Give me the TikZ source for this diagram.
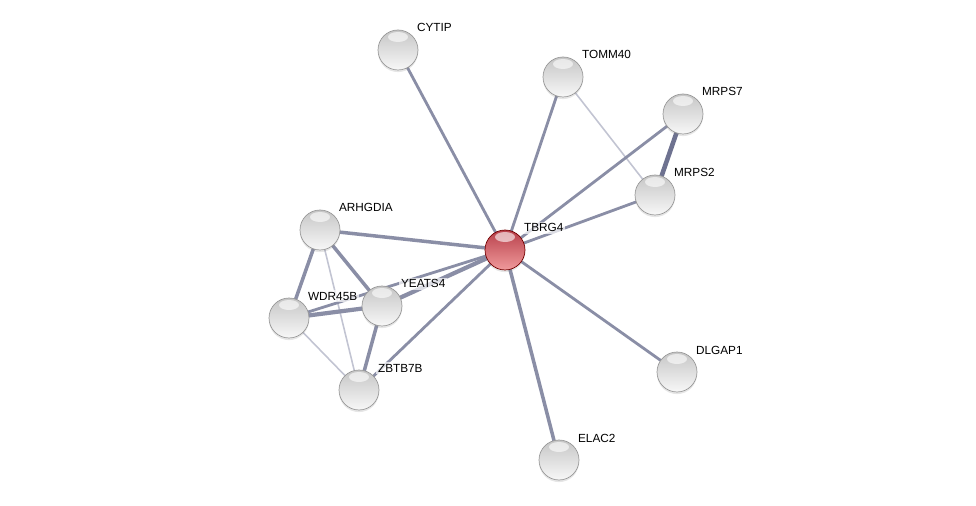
\documentclass[tikz,border=0pt]{standalone}
\usepackage{fontspec}
\setmainfont{Liberation Sans}
\usetikzlibrary{calc,shadows}
\definecolor{edgecol}{HTML}{8A8EA6}
\definecolor{edgedark}{HTML}{6E7290}
\definecolor{edgelight}{HTML}{C2C4D2}
\definecolor{hubtop}{HTML}{B8404A}
\definecolor{hubmid}{HTML}{D9656C}
\definecolor{hubbot}{HTML}{F09A9C}
\tikzset{
	prot/.style={circle, minimum size=0.8cm, inner sep=0pt, draw=gray!80, line width=0.4pt,
		top color=gray!45, middle color=gray!28, bottom color=gray!6,
		drop shadow={opacity=0.2, shadow xshift=0pt, shadow yshift=-1.2pt},
		path picture={\fill[white, opacity=0.6] ($(path picture bounding box.north)+(0,7)$) ellipse (10 and 5);}},
	hub/.style={prot, draw=red!45!black, top color=hubtop, middle color=hubmid, bottom color=hubbot},
	lbl/.style={anchor=base west, inner sep=1pt, fill=white, fill opacity=0.7, text opacity=1, font=\fontsize{6.7}{7}\selectfont},
	edge/.style={draw=edgecol, line width=1.6pt},
	weak/.style={draw=edgelight, line width=0.9pt},
	strong/.style={draw=edgedark, line width=2.6pt}
}
\begin{document}
\begin{tikzpicture}[x=0.02cm, y=-0.02cm, line join=round, line cap=round]
	\useasboundingbox (0,0) rectangle (976,506);
	\coordinate (cytip) at (398,50);
	\coordinate (tomm40) at (563,77);
	\coordinate (mrps7) at (683,114);
	\coordinate (mrps2) at (655,195);
	\coordinate (tbrg4) at (505,250);
	\coordinate (arhgdia) at (320,230);
	\coordinate (yeats4) at (382,306);
	\coordinate (wdr45b) at (289,318);
	\coordinate (zbtb7b) at (359,390);
	\coordinate (dlgap1) at (677,372);
	\coordinate (elac2) at (559,460);
	% edges
	\draw[weak] (tomm40) -- (mrps2);
	\draw[weak] (arhgdia) -- (zbtb7b);
	\draw[weak] (wdr45b) -- (zbtb7b);
	\draw[strong] (mrps7) -- (mrps2);
	\draw[edge] (tbrg4) -- (cytip);
	\draw[edge] (tbrg4) -- (tomm40);
	\draw[edge] (tbrg4) -- (mrps7);
	\draw[edge] (tbrg4) -- (mrps2);
	\draw[edge] (tbrg4) -- (dlgap1);
	\draw[edge, line width=2pt] (tbrg4) -- (elac2);
	\draw[edge, line width=2pt] (tbrg4) -- (arhgdia);
	\draw[edge, line width=2.4pt] (tbrg4) -- (yeats4);
	\draw[edge] (tbrg4) -- (wdr45b);
	\draw[edge] (tbrg4) -- (zbtb7b);
	\draw[edge, line width=2pt] (arhgdia) -- (wdr45b);
	\draw[edge, line width=2pt] (arhgdia) -- (yeats4);
	\draw[edge, line width=2.4pt] (wdr45b) -- (yeats4);
	\draw[edge, line width=2pt] (yeats4) -- (zbtb7b);
	% proteins
	\node[prot] (n-cytip) at (cytip) {};
	\node[prot] (n-tomm40) at (tomm40) {};
	\node[prot] (n-mrps7) at (mrps7) {};
	\node[prot] (n-mrps2) at (mrps2) {};
	\node[hub] (n-tbrg4) at (tbrg4) {};
	\node[prot] (n-arhgdia) at (arhgdia) {};
	\node[prot] (n-yeats4) at (yeats4) {};
	\node[prot] (n-wdr45b) at (wdr45b) {};
	\node[prot] (n-zbtb7b) at (zbtb7b) {};
	\node[prot] (n-dlgap1) at (dlgap1) {};
	\node[prot] (n-elac2) at (elac2) {};
	% labels
	\node[lbl] (l-cytip) at ($(cytip)+(17,-18)$) {CYTIP};
	\node[lbl] (l-tomm40) at ($(tomm40)+(17,-18)$) {TOMM40};
	\node[lbl] (l-mrps7) at ($(mrps7)+(17,-18)$) {MRPS7};
	\node[lbl] (l-mrps2) at ($(mrps2)+(17,-18)$) {MRPS2};
	\node[lbl] (l-tbrg4) at ($(tbrg4)+(17,-18)$) {TBRG4};
	\node[lbl] (l-arhgdia) at ($(arhgdia)+(17,-18)$) {ARHGDIA};
	\node[lbl] (l-yeats4) at ($(yeats4)+(17,-18)$) {YEATS4};
	\node[lbl] (l-wdr45b) at ($(wdr45b)+(17,-18)$) {WDR45B};
	\node[lbl] (l-zbtb7b) at ($(zbtb7b)+(17,-18)$) {ZBTB7B};
	\node[lbl] (l-dlgap1) at ($(dlgap1)+(17,-18)$) {DLGAP1};
	\node[lbl] (l-elac2) at ($(elac2)+(17,-18)$) {ELAC2};
\end{tikzpicture}
\end{document}
